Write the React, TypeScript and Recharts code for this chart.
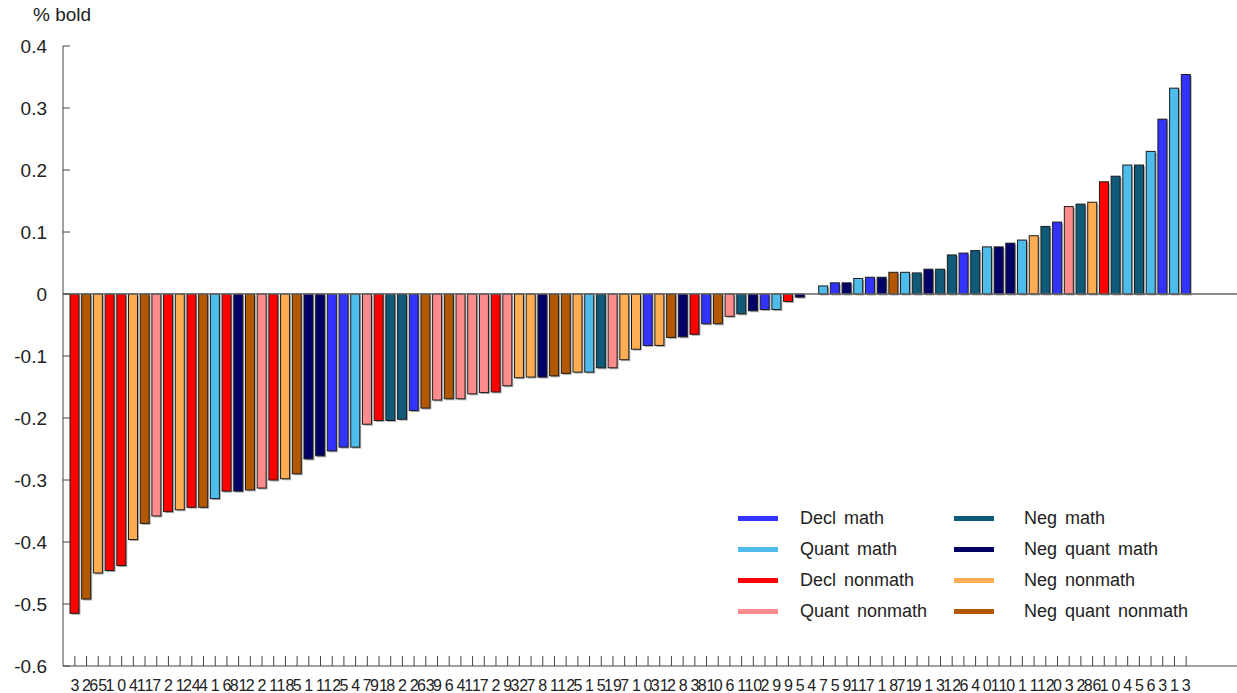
import React from 'react'
import { BarChart, Bar, XAxis, YAxis, ReferenceLine } from 'recharts'

const FONT = '"Liberation Sans", Arial, sans-serif'

// condition keys, in legend order (two columns of four)
const GROUPS = [
	'Decl math',
	'Quant math',
	'Decl nonmath',
	'Quant nonmath',
	'Neg math',
	'Neg quant math',
	'Neg nonmath',
	'Neg quant nonmath',
]

const GROUP_COLORS: Record<string, string> = {
	'Decl math': '#3333ff',
	'Quant math': '#4fbdeb',
	'Decl nonmath': '#ff0000',
	'Quant nonmath': '#ff8c8c',
	'Neg math': '#0f5a78',
	'Neg quant math': '#000068',
	'Neg nonmath': '#ffad52',
	'Neg quant nonmath': '#b35800',
}

// short codes per bar, left to right
const CODE: Record<string, string> = {
	B: 'Decl math',
	L: 'Quant math',
	R: 'Decl nonmath',
	P: 'Quant nonmath',
	T: 'Neg math',
	N: 'Neg quant math',
	O: 'Neg nonmath',
	W: 'Neg quant nonmath',
}

const barGroups = [
	'R', 'W', 'O', 'R', 'R', 'O', 'W', 'P', 'R', 'O',
	'R', 'W', 'L', 'R', 'N', 'W', 'P', 'R', 'O', 'W',
	'N', 'N', 'B', 'B', 'L', 'P', 'R', 'T', 'T', 'B',
	'W', 'P', 'W', 'P', 'P', 'P', 'R', 'P', 'O', 'O',
	'N', 'W', 'W', 'O', 'L', 'T', 'P', 'O', 'O', 'B',
	'O', 'W', 'N', 'R', 'B', 'W', 'P', 'T', 'N', 'B',
	'L', 'R', 'N', 'T', 'L', 'B', 'N', 'L', 'B', 'N',
	'W', 'L', 'T', 'N', 'T', 'T', 'B', 'T', 'L', 'N',
	'N', 'L', 'O', 'T', 'B', 'P', 'T', 'O', 'R', 'T',
	'L', 'T', 'L', 'B', 'L', 'B',
]

const values = [
	-0.515, -0.492, -0.45, -0.446, -0.438, -0.396, -0.37, -0.358, -0.351, -0.348,
	-0.344, -0.344, -0.33, -0.318, -0.318, -0.316, -0.313, -0.3, -0.298, -0.29,
	-0.266, -0.261, -0.253, -0.247, -0.247, -0.21, -0.204, -0.204, -0.202, -0.188,
	-0.184, -0.171, -0.169, -0.169, -0.161, -0.159, -0.158, -0.148, -0.135, -0.134,
	-0.134, -0.132, -0.128, -0.126, -0.126, -0.119, -0.119, -0.106, -0.089, -0.083,
	-0.083, -0.07, -0.069, -0.065, -0.048, -0.048, -0.036, -0.032, -0.027, -0.025,
	-0.025, -0.012, -0.005, 0, 0.013, 0.018, 0.018, 0.025, 0.027, 0.027,
	0.035, 0.035, 0.034, 0.04, 0.04, 0.063, 0.066, 0.07, 0.076, 0.076,
	0.082, 0.087, 0.094, 0.109, 0.116, 0.141, 0.145, 0.148, 0.181, 0.19,
	0.208, 0.208, 0.23, 0.282, 0.332, 0.354,
]

// item ids under the bars (they run together in the original)
const labels = [
	'3', '2', '65', '1', '0', '4', '11', '7', '2', '1',
	'24', '4', '1', '6', '81', '2', '2', '1', '18', '5',
	'1', '1', '12', '5', '4', '7', '91', '8', '2', '2',
	'63', '9', '6', '4', '11', '7', '2', '9', '32', '7',
	'8', '1', '12', '5', '1', '5', '19', '7', '1', '0',
	'31', '2', '8', '3', '81', '0', '6', '1', '10', '2',
	'9', '9', '5', '4', '7', '5', '9', '11', '7', '1',
	'8', '71', '9', '1', '3', '12', '6', '4', '0', '11',
	'0', '1', '1', '12', '0', '3', '2', '86', '1', '0',
	'4', '5', '6', '3', '1', '3',
]

const yTicks = [0.4, 0.3, 0.2, 0.1, 0, -0.1, -0.2, -0.3, -0.4, -0.5, -0.6]

const data = labels.map((label, i) => ({
	label,
	value: values[i],
	group: CODE[barGroups[i]],
}))

// bar with a dark outline and a soft grey drop shadow
function ShadowBar(props: any) {
	const { x, y, width, height, payload } = props
	if (!height) return null
	const top = Math.min(y, y + height)
	const h = Math.abs(height)
	return (
		<g>
			<rect x={x + 1.5} y={top + 1.5} width={width} height={h} fill='#9a9a9a' opacity={0.8} />
			<rect
				x={x}
				y={top}
				width={width}
				height={h}
				fill={GROUP_COLORS[payload.group]}
				stroke='#1c1c1c'
				strokeWidth={1}
			/>
		</g>
	)
}

function LegendBox() {
	return (
		<div
			style={{
				position: 'absolute',
				left: 730,
				top: 505,
				width: 480,
				height: 130,
				fontFamily: FONT,
			}}
		>
			{GROUPS.map((g, i) => {
				const col = i < 4 ? 0 : 1
				const row = i % 4
				const cy = 13 + row * 31
				return (
					<React.Fragment key={g}>
						<div
							style={{
								position: 'absolute',
								left: col ? 224 : 8,
								top: cy - 2.5,
								width: 40,
								height: 5,
								background: GROUP_COLORS[g],
							}}
						/>
						<div
							style={{
								position: 'absolute',
								left: col ? 294 : 70,
								top: cy - 11,
								fontSize: 18,
								lineHeight: '22px',
								color: '#222',
								whiteSpace: 'pre',
								wordSpacing: 3,
							}}
						>
							{g}
						</div>
					</React.Fragment>
				)
			})}
		</div>
	)
}

export default function App() {
	return (
		<div
			style={{
				position: 'absolute',
				left: 0,
				top: 0,
				width: 1237,
				height: 693,
				background: '#fff',
				fontFamily: FONT,
			}}
		>
			<div
				style={{
					position: 'absolute',
					left: 33,
					top: 4,
					fontSize: 19,
					color: '#222',
				}}
			>
				% bold
			</div>
			<BarChart
				width={1237}
				height={693}
				data={data}
				margin={{ top: 46, right: 0, left: 0, bottom: 0 }}
				barCategoryGap={2}
			>
				<XAxis
					dataKey='label'
					interval={0}
					height={27}
					padding={{ left: 6, right: 45 }}
					axisLine={{ stroke: '#444' }}
					tickLine={{ stroke: '#444' }}
					tickSize={-10}
					tickMargin={24}
					tick={{ fontSize: 16, fill: '#222', fontFamily: FONT }}
				/>
				<YAxis
					width={63}
					domain={[-0.6, 0.4]}
					ticks={yTicks}
					interval={0}
					axisLine={{ stroke: '#444' }}
					tickLine={{ stroke: '#444' }}
					tickSize={-7}
					tickMargin={23}
					tick={{ fontSize: 19, fill: '#222', fontFamily: FONT }}
					tickFormatter={(v: number) => (v === 0 ? '0' : v.toFixed(1))}
				/>
				<ReferenceLine y={0} stroke='#666' strokeWidth={1.5} />
				<Bar
					dataKey='value'
					barSize={9}
					isAnimationActive={false}
					shape={ShadowBar}
				/>
			</BarChart>
			<LegendBox />
		</div>
	)
}
